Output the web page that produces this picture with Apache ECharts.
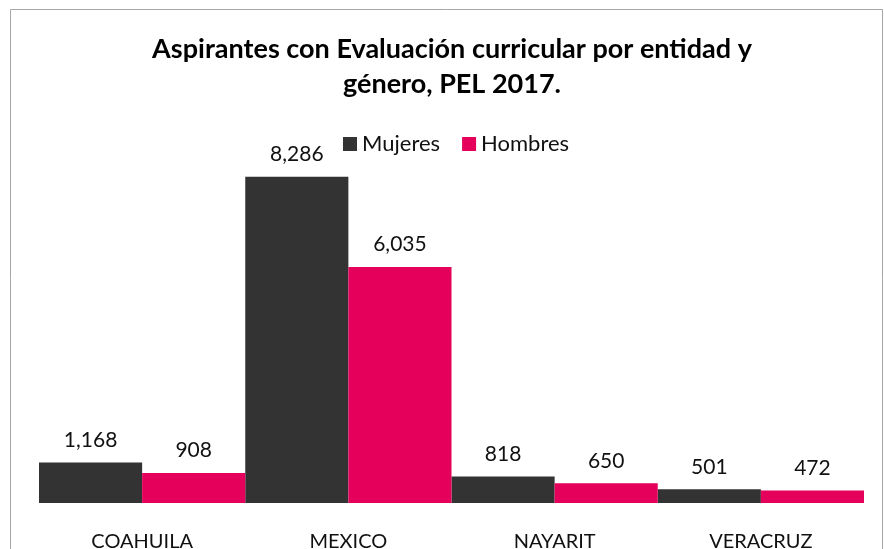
<!DOCTYPE html>
<html>
<head>
<meta charset="utf-8">
<script src="https://cdn.jsdelivr.net/npm/echarts@6/dist/echarts.min.js"></script>
<style>
    html, body { margin: 0; padding: 0; background: #fff; }
    #chart { width: 884px; height: 549px; }
</style>
</head>
<body>
<div id="chart"></div>
<script>
    // datos
    var entidades = ['COAHUILA', 'MEXICO', 'NAYARIT', 'VERACRUZ'];
    var mujeres = [1168, 8286, 818, 501];
    var hombres = [908, 6035, 650, 472];

    var myChart = echarts.init(document.getElementById('chart'));
    var fuente = 'Lato, "Open Sans", sans-serif';

    var etiqueta = {
        show: true,
        position: 'top',
        distance: 12,
        fontFamily: fuente,
        fontSize: 21,
        color: '#111',
        formatter: function (p) { return p.value.toLocaleString('en-US'); }
    };

    var option = {
        animation: false,
        textStyle: { fontFamily: fuente },
        title: {
            text: 'Aspirantes con Evaluación curricular por entidad y\ngénero, PEL 2017.',
            left: 447,
            top: 27,
            textAlign: 'center',
            textStyle: { fontSize: 27, fontWeight: 'bold', color: '#000', lineHeight: 35, fontFamily: fuente }
        },
        legend: {
            top: 128,
            left: 338,
            itemWidth: 14,
            itemHeight: 14,
            itemGap: 22,
            icon: 'rect',
            textStyle: { fontSize: 22, color: '#111', fontFamily: fuente },
            data: ['Mujeres', 'Hombres']
        },
        grid: { left: 39, right: 20, top: 148, bottom: 46, outerBoundsMode: 'none' },
        xAxis: {
            type: 'category',
            data: entidades,
            axisLine: { show: false },
            axisTick: { show: false },
            axisLabel: { fontSize: 20, color: '#111', margin: 29, fontFamily: fuente }
        },
        yAxis: {
            type: 'value',
            min: 160,
            max: 9000,
            show: false,
            splitLine: { show: false }
        },
        series: [
            {
                name: 'Mujeres', type: 'bar', data: mujeres,
                barGap: '0%', barCategoryGap: '0%',
                itemStyle: { color: '#333333' },
                label: etiqueta
            },
            {
                name: 'Hombres', type: 'bar', data: hombres,
                barGap: '0%', barCategoryGap: '0%',
                itemStyle: { color: '#e4005b' },
                label: etiqueta
            }
        ],
        graphic: [{
            type: 'rect',
            shape: { x: 10.5, y: 9.5, width: 872, height: 560 },
            style: { fill: 'none', stroke: '#a6a6a6', lineWidth: 1 },
            silent: true
        }]
    };

    myChart.setOption(option);
</script>
</body>
</html>
